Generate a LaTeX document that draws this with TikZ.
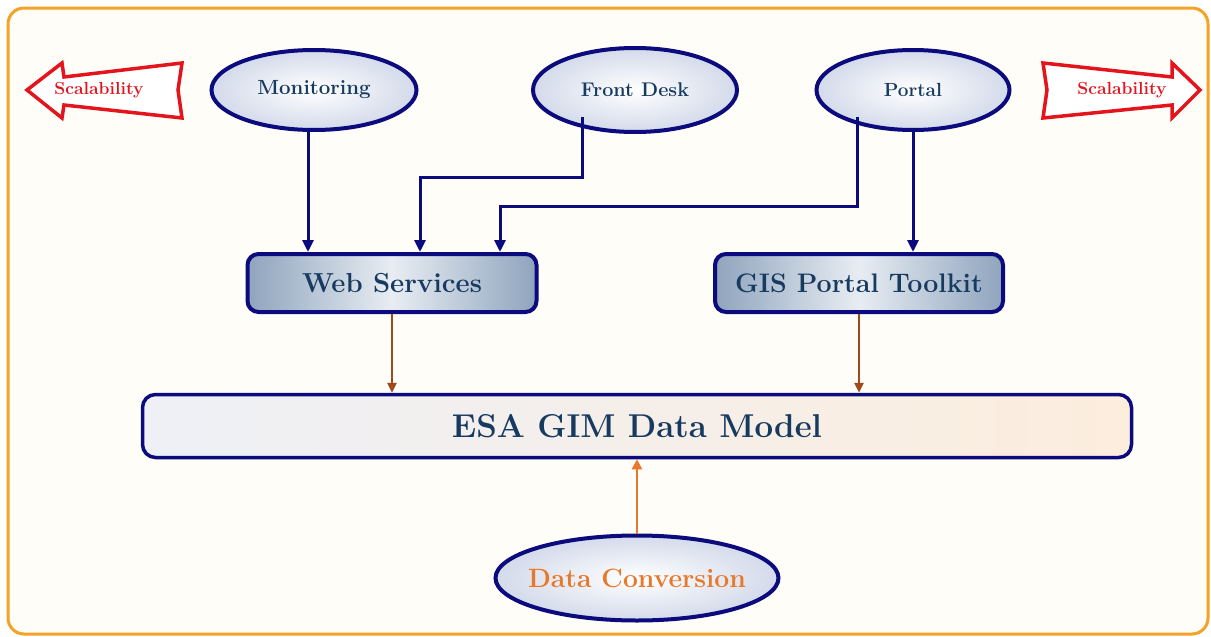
\documentclass[tikz,border=0pt]{standalone}
\usetikzlibrary{shapes.geometric,arrows.meta,calc}

\definecolor{navy}{HTML}{0B0B7D}
\definecolor{txtblue}{HTML}{173A60}
\definecolor{frameorange}{HTML}{F4A326}
\definecolor{paper}{HTML}{FFFDF8}
\definecolor{scalered}{HTML}{E3141C}
\definecolor{brownline}{HTML}{A04A1C}
\definecolor{convorange}{HTML}{E8782A}
\definecolor{ovalrim}{HTML}{D3DAEA}
\definecolor{steel}{HTML}{8FA4BD}
\definecolor{steellight}{HTML}{E8EDF3}
\definecolor{modelleft}{HTML}{EEF0F6}
\definecolor{modelright}{HTML}{FCEDDD}

\tikzset{
  oval/.style={ellipse, draw=navy, line width=4pt, inner sep=0pt,
    inner color=white, outer color=ovalrim,
    text=txtblue, font=\fontsize{20.5}{24}\selectfont\bfseries},
  svcbox/.style={rectangle, rounded corners=11pt, draw=navy, line width=4pt,
    left color=steel, right color=steel, middle color=steellight,
    minimum height=58pt, inner sep=0pt,
    text=txtblue, font=\fontsize{27.5}{32}\selectfont\bfseries},
  modelbox/.style={rectangle, rounded corners=13pt, draw=navy, line width=3.5pt,
    left color=modelleft, right color=modelright,
    minimum width=989pt, minimum height=63pt, inner sep=0pt,
    text=txtblue, font=\fontsize{33}{38}\selectfont\bfseries},
  navyarrow/.style={draw=navy, line width=3pt,
    -{Triangle[length=12pt,width=11pt]}},
  brownarrow/.style={draw=brownline, line width=2.4pt,
    -{Triangle[length=10pt,width=9pt]}},
  orangearrow/.style={draw=convorange, line width=2.8pt,
    -{Triangle[length=10pt,width=10pt]}},
  scalearrow/.style={draw=scalered, line width=3.5pt, fill=white, line join=miter},
  scaletext/.style={text=scalered, font=\fontsize{17.5}{20}\selectfont\bfseries},
}

\begin{document}
\begin{tikzpicture}[x=1pt,y=-1pt]
\useasboundingbox (0,0) rectangle (1211,637);
\fill[white] (0,0) rectangle (1211,637);

% outer frame
\draw[frameorange, line width=3pt, fill=paper, rounded corners=16pt]
  (8,8) rectangle (1208,634);

% scalability arrows
\draw[scalearrow] (27,90) -- (62,63) -- (64,77) -- (182,63) -- (178,90)
  -- (182,118) -- (64,105) -- (62,118) -- cycle;
\node[scaletext] (scl) at (99,90) {Scalability};

\draw[scalearrow] (1200,90) -- (1172,63) -- (1172,77) -- (1043,63) -- (1047,90)
  -- (1043,118) -- (1172,105) -- (1172,118) -- cycle;
\node[scaletext] (scr) at (1122,90) {Scalability};

% client ellipses
\node[oval, minimum width=205pt, minimum height=80pt] (mon) at (314,90) {Monitoring};
\node[oval, minimum width=204pt, minimum height=84pt,
  font=\fontsize{19.8}{23}\selectfont\bfseries] (fd) at (635,90) {Front Desk};
\node[oval, minimum width=193pt, minimum height=80pt,
  font=\fontsize{19}{22}\selectfont\bfseries] (po) at (913,90) {Portal};

% service layer
\node[svcbox, minimum width=289pt] (ws) at (392,283) {Web Services};
\node[svcbox, minimum width=288pt,
  font=\fontsize{26.8}{31}\selectfont\bfseries] (gis) at (859,283) {GIS Portal Toolkit};

% data model
\node[modelbox] (dm) at (637,426) {ESA GIM Data Model};

% data conversion (negative x padding keeps the ellipse at its set width)
\node[oval, minimum width=283pt, minimum height=85pt, inner xsep=-40pt,
  text=convorange, font=\fontsize{26.5}{30}\selectfont\bfseries] (dc) at (637,578) {Data Conversion};

% bend points of the routed connectors
\coordinate (fdout) at (582,117);
\coordinate (fdbend) at (420,177);
\coordinate (poout) at (857,117);
\coordinate (pobend) at (500,206);
\coordinate (monout) at (308,130);

% client -> service connectors
\draw[navyarrow] (monout) -- (monout |- ws.north);
\draw[navyarrow] (fdout) |- (fdbend) -- (fdbend |- ws.north);
\draw[navyarrow] (poout) |- (pobend) -- (pobend |- ws.north);
\draw[navyarrow] (po.south) -- (po.south |- gis.north);

% service -> data model
\draw[brownarrow] (ws.south) -- (ws.south |- dm.north);
\draw[brownarrow] (gis.south) -- (gis.south |- dm.north);

% conversion -> data model
\draw[orangearrow] (dc.north) -- (dm.south);
\end{tikzpicture}
\end{document}
